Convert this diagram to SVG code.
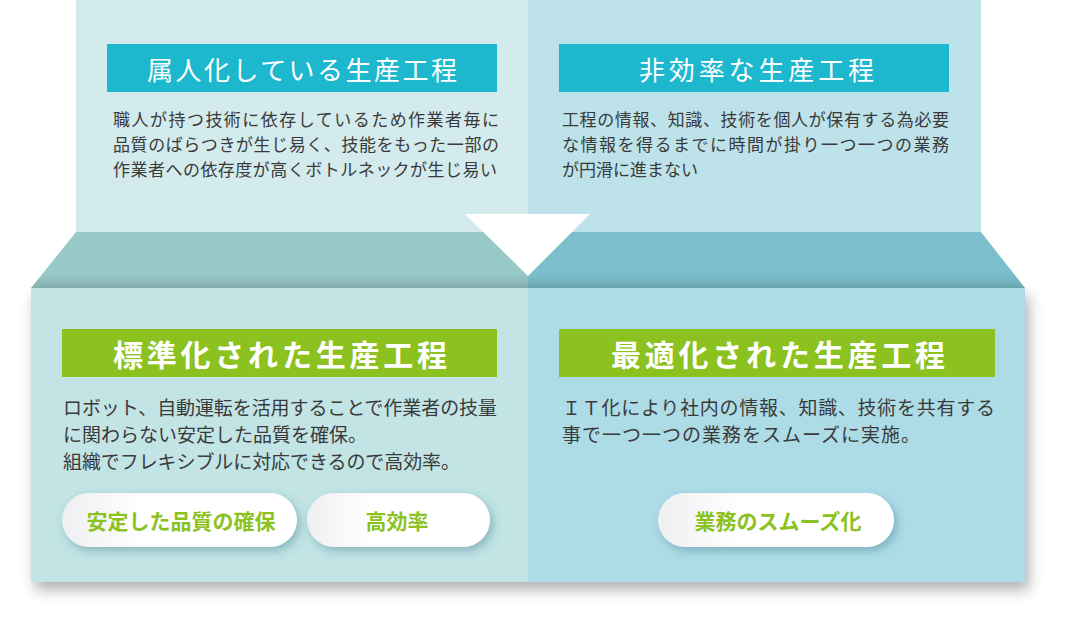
<svg xmlns="http://www.w3.org/2000/svg" width="1068" height="625" viewBox="0 0 1068 625">
<style>
.body{font-family:"Noto Sans CJK JP","Noto Sans",sans-serif;fill:#3a3a3a;}
.t17{font-size:17px;}
.t19{font-size:19px;}
.ttl{font-family:"Noto Sans CJK JP","Noto Sans",sans-serif;fill:#ffffff;font-size:26px;}
.ttlb{font-family:"Noto Sans CJK JP","Noto Sans",sans-serif;fill:#ffffff;font-size:30px;font-weight:bold;}
.pilltxt{font-family:"Noto Sans CJK JP","Noto Sans",sans-serif;fill:#8cc21f;font-size:21px;font-weight:bold;text-anchor:middle;}
.blue{fill:#1db8ce;}
.green{fill:#8cc21f;}
.pill{fill:url(#pillGrad);filter:url(#pillShadow);}
</style>
<defs>
<linearGradient id="pillGrad" x1="0" y1="0" x2="1" y2="0">
<stop offset="0" stop-color="#eeeff1"/>
<stop offset="0.35" stop-color="#ffffff"/>
<stop offset="1" stop-color="#ffffff"/>
</linearGradient>
<linearGradient id="bandShade" x1="0" y1="0" x2="0" y2="1">
<stop offset="0" stop-color="#000" stop-opacity="0"/>
<stop offset="0.75" stop-color="#000" stop-opacity="0"/>
<stop offset="1" stop-color="#000" stop-opacity="0.12"/>
</linearGradient>
<filter id="panelShadow" x="-10%" y="-10%" width="125%" height="135%">
<feDropShadow dx="4" dy="8" stdDeviation="7" flood-color="#000" flood-opacity="0.3"/>
</filter>
<filter id="pillShadow" x="-20%" y="-40%" width="150%" height="200%">
<feDropShadow dx="3" dy="4" stdDeviation="5" flood-color="#3f7f8c" flood-opacity="0.45"/>
</filter>
</defs>

<g id="background">
<rect x="76" y="0" width="452" height="240" fill="#d3ebec"/>
<rect x="528" y="0" width="453" height="240" fill="#bde2ea"/>
<polygon points="76,232 528,232 528,288 31,288" fill="#98c9c7"/>
<polygon points="528,232 981,232 1025,288 528,288" fill="#7bbfcc"/>
<polygon points="76,232 981,232 1025,288 31,288" fill="url(#bandShade)"/>
<g filter="url(#panelShadow)">
<rect x="31" y="288" width="497" height="294" fill="#c2e4e5"/>
<rect x="528" y="288" width="497" height="294" fill="#addce7"/>
</g>
</g>

<g id="connectors">
<polygon points="465,214 590,214 528,276" fill="#ffffff"/>
</g>

<g id="node-zokujin">
<rect class="blue" x="107" y="44" width="390" height="48"/>
<text class="ttl" x="147" y="80" textLength="310" lengthAdjust="spacing">属人化している生産工程</text>
<text class="body t17" x="113" y="126" textLength="386" lengthAdjust="spacing">職人が持つ技術に依存しているため作業者毎に</text>
<text class="body t17" x="113" y="151" textLength="386" lengthAdjust="spacing">品質のばらつきが生じ易く、技能をもった一部の</text>
<text class="body t17" x="113" y="176" textLength="384" lengthAdjust="spacing">作業者への依存度が高くボトルネックが生じ易い</text>
</g>

<g id="node-hikoritsu">
<rect class="blue" x="559" y="44" width="390" height="48"/>
<text class="ttl" x="639" y="80" textLength="235" lengthAdjust="spacing">非効率な生産工程</text>
<text class="body t17" x="562" y="126" textLength="387" lengthAdjust="spacing">工程の情報、知識、技術を個人が保有する為必要</text>
<text class="body t17" x="562" y="151" textLength="387" lengthAdjust="spacing">な情報を得るまでに時間が掛り一つ一つの業務</text>
<text class="body t17" x="562" y="176">が円滑に進まない</text>
</g>

<g id="node-hyojunka">
<rect class="green" x="62" y="329" width="435" height="48"/>
<text class="ttlb" x="113" y="366" textLength="334" lengthAdjust="spacing">標準化された生産工程</text>
<text class="body t19" x="63" y="415" textLength="434" lengthAdjust="spacing">ロボット、自動運転を活用することで作業者の技量</text>
<text class="body t19" x="63" y="442">に関わらない安定した品質を確保。</text>
<text class="body t19" x="63" y="469" textLength="397" lengthAdjust="spacing">組織でフレキシブルに対応できるので高効率。</text>
</g>

<g id="pill-antei">
<rect class="pill" x="62" y="493" width="235" height="54" rx="27"/>
<text class="pilltxt" x="181" y="529">安定した品質の確保</text>
</g>

<g id="pill-kokoritsu">
<rect class="pill" x="307" y="493" width="183" height="54" rx="27"/>
<text class="pilltxt" x="397" y="529">高効率</text>
</g>

<g id="node-saitekika">
<rect class="green" x="559" y="329" width="436" height="48"/>
<text class="ttlb" x="611" y="366" textLength="334" lengthAdjust="spacing">最適化された生産工程</text>
<text class="body t19" x="562" y="415" textLength="433" lengthAdjust="spacing">ＩＴ化により社内の情報、知識、技術を共有する</text>
<text class="body t19" x="562" y="442" textLength="358" lengthAdjust="spacing">事で一つ一つの業務をスムーズに実施。</text>
</g>

<g id="pill-smooth">
<rect class="pill" x="658" y="493" width="236" height="54" rx="27"/>
<text class="pilltxt" x="778" y="529">業務のスムーズ化</text>
</g>
</svg>
